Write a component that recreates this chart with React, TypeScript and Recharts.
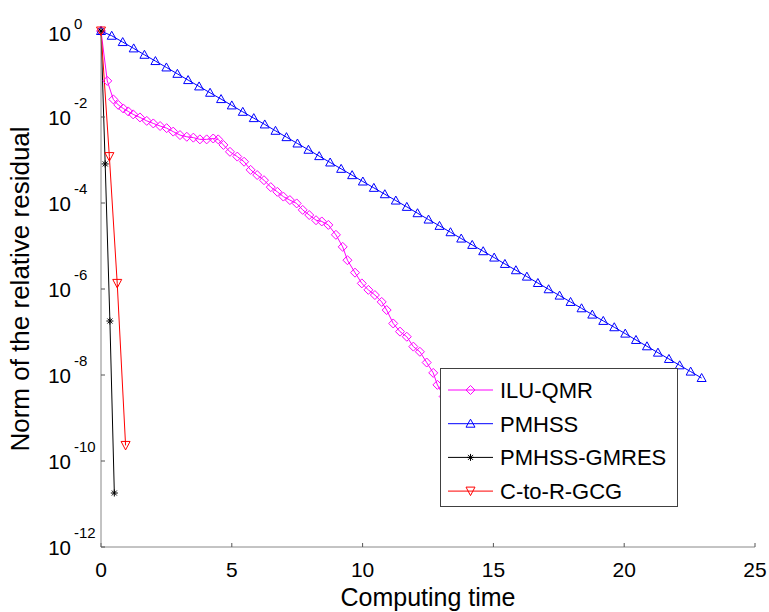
import React from 'react';
import { LineChart, Line, XAxis, YAxis, Legend } from 'recharts';

const xTicks = [0, 5, 10, 15, 20, 25];
const yTicks = [1, 1e-2, 1e-4, 1e-6, 1e-8, 1e-10, 1e-12];

const seriesNames = ['ILU-QMR', 'PMHSS', 'PMHSS-GMRES', 'C-to-R-GCG'];
const seriesColors = ['#ff00ff', '#0000ff', '#000000', '#ff0000'];
const seriesMarkers = ['diamond', 'up', 'star', 'down'];

const iluTime = [0, 0.24, 0.47, 0.66, 0.85, 1.04, 1.23, 1.49, 1.75, 2.0, 2.26, 2.51, 2.76, 3.02, 3.28, 3.53, 3.78, 4.04, 4.29, 4.48, 4.68, 4.93, 5.21, 5.47, 5.72, 5.97, 6.23, 6.49, 6.74, 6.97, 7.22, 7.48, 7.71, 7.96, 8.22, 8.44, 8.69, 8.98, 9.24, 9.42, 9.71, 9.97, 10.22, 10.47, 10.73, 10.92, 11.17, 11.43, 11.69, 11.94, 12.19, 12.45, 12.7, 12.86, 13.1, 13.3];
const iluResidual = [1, 6.92e-2, 2.57e-2, 1.91e-2, 1.58e-2, 1.35e-2, 1.15e-2, 9.77e-3, 8.13e-3, 7.08e-3, 6.17e-3, 5.5e-3, 4.57e-3, 3.8e-3, 3.47e-3, 3.31e-3, 3.02e-3, 3.02e-3, 3.16e-3, 3.02e-3, 2.24e-3, 1.55e-3, 1.2e-3, 9.12e-4, 5.89e-4, 4.47e-4, 3.39e-4, 2.34e-4, 1.82e-4, 1.41e-4, 1.17e-4, 9.77e-5, 6.92e-5, 5.25e-5, 3.98e-5, 3.72e-5, 3.09e-5, 1.82e-5, 9.55e-6, 4.68e-6, 2.4e-6, 1.35e-6, 9.55e-7, 7.24e-7, 5.01e-7, 3.24e-7, 1.58e-7, 1.02e-7, 7.76e-8, 4.57e-8, 3.47e-8, 1.95e-8, 1.12e-8, 5.89e-9, 3.16e-9, 1.78e-9];

const pmhssTime = [0, 0.41, 0.83, 1.25, 1.66, 2.08, 2.5, 2.92, 3.33, 3.75, 4.17, 4.59, 5.0, 5.42, 5.84, 6.26, 6.67, 7.09, 7.51, 7.93, 8.34, 8.76, 9.18, 9.6, 10.01, 10.43, 10.85, 11.27, 11.69, 12.1, 12.52, 12.94, 13.36, 13.77, 14.19, 14.61, 15.03, 15.44, 15.86, 16.28, 16.7, 17.11, 17.53, 17.95, 18.37, 18.78, 19.2, 19.62, 20.04, 20.45, 20.87, 21.29, 21.71, 22.12, 22.54, 22.96];
const pmhssResidual = [1, 7.76e-1, 5.53e-1, 3.94e-1, 2.8e-1, 2.0e-1, 1.42e-1, 1.01e-1, 7.22e-2, 5.14e-2, 3.66e-2, 2.61e-2, 1.86e-2, 1.32e-2, 9.42e-3, 6.71e-3, 4.78e-3, 3.4e-3, 2.42e-3, 1.73e-3, 1.23e-3, 8.75e-4, 6.23e-4, 4.44e-4, 3.16e-4, 2.25e-4, 1.6e-4, 1.14e-4, 8.13e-5, 5.79e-5, 4.12e-5, 2.94e-5, 2.09e-5, 1.49e-5, 1.06e-5, 7.56e-6, 5.38e-6, 3.83e-6, 2.73e-6, 1.94e-6, 1.38e-6, 9.86e-7, 7.02e-7, 5.0e-7, 3.56e-7, 2.54e-7, 1.81e-7, 1.29e-7, 9.17e-8, 6.53e-8, 4.65e-8, 3.31e-8, 2.36e-8, 1.68e-8, 1.2e-8, 8.51e-9];

const gmresTime = [0, 0.16, 0.34, 0.51];
const gmresResidual = [1, 8.1e-4, 1.8e-7, 1.8e-11];

const gcgTime = [0, 0.32, 0.62, 0.94];
const gcgResidual = [1, 1.2e-3, 1.35e-6, 2.3e-10];

const toData = (t: number[], r: number[]) => t.map((x, i) => ({ t: x, v: r[i] }));
const seriesData = [
  toData(iluTime, iluResidual),
  toData(pmhssTime, pmhssResidual),
  toData(gmresTime, gmresResidual),
  toData(gcgTime, gcgResidual),
];

const FONT = 'Liberation Sans, Arial, Helvetica, sans-serif';

const markerPath = (shape: string, cx: number, cy: number) => {
  switch (shape) {
    case 'diamond':
      return `M${cx} ${cy - 4.5} L${cx + 4.5} ${cy} L${cx} ${cy + 4.5} L${cx - 4.5} ${cy} Z`;
    case 'up':
      return `M${cx} ${cy - 4.5} L${cx + 4.5} ${cy + 3.5} L${cx - 4.5} ${cy + 3.5} Z`;
    case 'down':
      return `M${cx - 4.5} ${cy - 4} L${cx + 4.5} ${cy - 4} L${cx} ${cy + 4.5} Z`;
    default:
      return `M${cx - 3.5} ${cy} H${cx + 3.5} M${cx} ${cy - 3.5} V${cy + 3.5} M${cx - 2.5} ${cy - 2.5} L${cx + 2.5} ${cy + 2.5} M${cx - 2.5} ${cy + 2.5} L${cx + 2.5} ${cy - 2.5}`;
  }
};

const makeDot = (shape: string, color: string) => (p: any) => {
  const { cx, cy, index } = p;
  if (cx == null || cy == null) return <g key={`d-${shape}-${index}`} />;
  return (
    <path
      key={`d-${shape}-${index}`}
      d={markerPath(shape, cx, cy)}
      stroke={color}
      strokeWidth={1}
      fill="none"
    />
  );
};

const YTick = (props: any) => {
  const { x, y, payload } = props;
  const exp = Math.round(Math.log10(payload.value));
  const top = exp === 0;
  return (
    <g>
      <text x={x} y={y + (top ? 10 : 7.5)} textAnchor="end" fontSize={20.5} fill="#000" fontFamily={FONT}>
        10
      </text>
      <text x={x + 3} y={y + (top ? -2.5 : -9.5)} textAnchor="start" fontSize={15} fill="#000" fontFamily={FONT}>
        {String(exp)}
      </text>
    </g>
  );
};

const XTick = (props: any) => {
  const { x, y, payload } = props;
  return (
    <text x={x} y={y + 34} textAnchor="middle" fontSize={21} fill="#000" fontFamily={FONT}>
      {payload.value}
    </text>
  );
};

const XLabel = (props: any) => {
  const vb = props.viewBox || { x: 101, y: 547, width: 654, height: 65 };
  return (
    <text x={vb.x + vb.width / 2} y={vb.y + 59} textAnchor="middle" fontSize={25} fill="#000" fontFamily={FONT}>
      Computing time
    </text>
  );
};

const YLabel = (props: any) => {
  const vb = props.viewBox || { x: 0, y: 31, width: 101, height: 516 };
  const x = vb.x + 29;
  const y = vb.y + vb.height / 2;
  return (
    <text x={x} y={y} transform={`rotate(-90, ${x}, ${y})`} textAnchor="middle" fontSize={26} fill="#000" fontFamily={FONT}>
      Norm of the relative residual
    </text>
  );
};

const LegendBox = () => (
  <svg width={238} height={139} style={{ display: 'block' }}>
    <rect x={0.5} y={0.5} width={237} height={138} fill="#ffffff" stroke="#404040" strokeWidth={1} />
    {seriesNames.map((name, i) => {
      const cy = 22 + i * 33.7;
      return (
        <g key={name}>
          <line x1={8} x2={53} y1={cy} y2={cy} stroke={seriesColors[i]} strokeWidth={1} />
          <path d={markerPath(seriesMarkers[i], 30.5, cy)} stroke={seriesColors[i]} strokeWidth={1} fill="none" />
          <text x={60} y={cy + 8} fontSize={22} fill="#000" fontFamily={FONT}>
            {name}
          </text>
        </g>
      );
    })}
  </svg>
);

const AXIS = '#888888';

export default function App() {
  return (
    <div style={{ position: 'absolute', left: 0, top: 0, background: '#fff' }}>
      <LineChart width={769} height={612} margin={{ top: 31, right: 14, bottom: 0, left: 0 }}>
        <XAxis
          xAxisId={0}
          type="number"
          dataKey="t"
          domain={[0, 25]}
          ticks={xTicks}
          height={65}
          tickSize={-4}
          tickMargin={0}
          axisLine={{ stroke: AXIS }}
          tickLine={{ stroke: '#555' }}
          tick={<XTick />}
          label={<XLabel />}
        />
        <XAxis
          xAxisId="top"
          orientation="top"
          type="number"
          domain={[0, 25]}
          ticks={xTicks}
          height={0}
          tickSize={-4}
          allowDataOverflow
          axisLine={{ stroke: AXIS }}
          tickLine={{ stroke: '#555' }}
          tick={false}
        />
        <YAxis
          yAxisId={0}
          scale="log"
          type="number"
          domain={[1e-12, 1]}
          ticks={yTicks}
          width={101}
          tickSize={-4}
          tickMargin={34}
          axisLine={{ stroke: AXIS }}
          tickLine={{ stroke: '#555' }}
          tick={<YTick />}
          label={<YLabel />}
        />
        <YAxis
          yAxisId="right"
          orientation="right"
          scale="log"
          type="number"
          domain={[1e-12, 1]}
          ticks={yTicks}
          width={0}
          tickSize={-4}
          allowDataOverflow
          axisLine={{ stroke: AXIS }}
          tickLine={{ stroke: '#555' }}
          tick={false}
        />
        {seriesData.map((d, i) => (
          <Line
            key={seriesNames[i]}
            name={seriesNames[i]}
            data={d}
            dataKey="v"
            xAxisId={0}
            yAxisId={0}
            type="linear"
            stroke={seriesColors[i]}
            strokeWidth={1}
            dot={makeDot(seriesMarkers[i], seriesColors[i])}
            activeDot={false}
            isAnimationActive={false}
          />
        ))}
        <Legend
          layout="horizontal"
          verticalAlign="middle"
          align="center"
          wrapperStyle={{ position: 'absolute', left: 440, top: 368, width: 238, height: 139 }}
          content={() => <LegendBox />}
        />
      </LineChart>
    </div>
  );
}
